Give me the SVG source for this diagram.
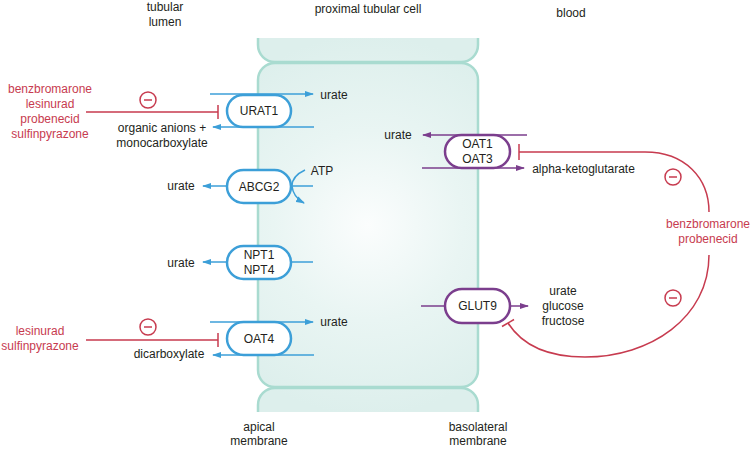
<svg xmlns="http://www.w3.org/2000/svg" width="753" height="449" viewBox="0 0 753 449">
<defs>
<style>
text{font-family:"Liberation Sans",Arial,sans-serif;font-size:12px;fill:#231f20;text-anchor:middle;dominant-baseline:central}
.red{fill:#c73b4f}
.pb{fill:#fff;stroke:#3c9fd8;stroke-width:2.5}
.pp{fill:#fff;stroke:#7b3e8d;stroke-width:2.5}
.lb{fill:none;stroke:#3c9fd8;stroke-width:1.5}
.lp{fill:none;stroke:#7b3e8d;stroke-width:1.5}
.lr{fill:none;stroke:#c73b4f;stroke-width:1.5}
.cell{stroke:#a9dbd0;stroke-width:2.5;fill:url(#cg)}
</style>
<radialGradient id="cg" cx="368" cy="225" r="190" gradientUnits="userSpaceOnUse">
<stop offset="0" stop-color="#fbfdfd"/>
<stop offset="0.5" stop-color="#e9f5f3"/>
<stop offset="1" stop-color="#ddefec"/>
</radialGradient>
<clipPath id="cc"><rect x="240" y="38" width="260" height="374"/></clipPath>
<marker id="ab" markerWidth="9" markerHeight="7" refX="8" refY="3.5" orient="auto" markerUnits="userSpaceOnUse"><path d="M0,0.5 L9,3.5 L0,6.5z" fill="#3c9fd8"/></marker>
<marker id="ap" markerWidth="9" markerHeight="7" refX="8" refY="3.5" orient="auto" markerUnits="userSpaceOnUse"><path d="M0,0.5 L9,3.5 L0,6.5z" fill="#7b3e8d"/></marker>
</defs>
<rect width="753" height="449" fill="#fff"/>

<g id="cells" clip-path="url(#cc)">
<rect class="cell" x="258" y="10" width="220" height="52" rx="17"/>
<rect class="cell" x="258" y="388" width="220" height="60" rx="17"/>
<rect id="proximal-cell" class="cell" x="258" y="63" width="220" height="324" rx="17"/>
</g>

<g id="labels">
<text x="165" y="7">tubular</text>
<text x="165" y="22">lumen</text>
<text x="368" y="9">proximal tubular cell</text>
<text x="571" y="13">blood</text>
<text x="259" y="427">apical</text>
<text x="259" y="441">membrane</text>
<text x="478" y="427">basolateral</text>
<text x="478" y="441">membrane</text>
</g>

<g id="connectors">
<!-- URAT1 -->
<line class="lb" x1="210" y1="94" x2="313" y2="94" marker-end="url(#ab)"/>
<line class="lb" x1="314" y1="127" x2="213" y2="127" marker-end="url(#ab)"/>
<!-- ABCG2 -->
<line class="lb" x1="227" y1="186" x2="203" y2="186" marker-end="url(#ab)"/>
<line class="lb" x1="291" y1="186" x2="313" y2="186"/>
<path class="lb" d="M305,170 Q292,176 292,186 Q293,197 304,203" marker-end="url(#ab)"/>
<!-- NPT -->
<line class="lb" x1="227" y1="262" x2="203" y2="262" marker-end="url(#ab)"/>
<line class="lb" x1="291" y1="262" x2="313" y2="262"/>
<!-- OAT4 -->
<line class="lb" x1="210" y1="322" x2="313" y2="322" marker-end="url(#ab)"/>
<line class="lb" x1="314" y1="355" x2="213" y2="355" marker-end="url(#ab)"/>
<!-- OAT1/3 -->
<line class="lp" x1="527" y1="135" x2="423" y2="135" marker-end="url(#ap)"/>
<line class="lp" x1="422" y1="168" x2="524" y2="168" marker-end="url(#ap)"/>
<!-- GLUT9 -->
<line class="lp" x1="421" y1="306" x2="445" y2="306"/>
<line class="lp" x1="510" y1="306" x2="528" y2="306" marker-end="url(#ap)"/>
<!-- inhibitors -->
<path class="lr" d="M86,112 H218 M218,105 V119"/>
<path class="lr" d="M86,340 H218 M218,333 V347"/>
<path class="lr" d="M519,152 H645 C685,152 709,178 709,212"/>
<path class="lr" d="M519,144 V160"/>
<path class="lr" d="M709,255 C709,318 650,357 585,357 C548,357 522,345 508,323"/>
<path class="lr" d="M502,326.5 L514,319.5"/>
</g>

<g id="inhibit-marks">
<g class="lr"><circle cx="148" cy="100" r="8"/><line x1="144" y1="100" x2="152" y2="100"/></g>
<g class="lr"><circle cx="148" cy="327" r="8"/><line x1="144" y1="327" x2="152" y2="327"/></g>
<g class="lr"><circle cx="673" cy="177" r="8"/><line x1="669" y1="177" x2="677" y2="177"/></g>
<g class="lr"><circle cx="673" cy="298" r="8"/><line x1="669" y1="298" x2="677" y2="298"/></g>
</g>

<g id="drugs-urat1">
<text class="red" x="50" y="89">benzbromarone</text>
<text class="red" x="50" y="104">lesinurad</text>
<text class="red" x="50" y="119">probenecid</text>
<text class="red" x="50" y="134">sulfinpyrazone</text>
</g>
<g id="drugs-oat4">
<text class="red" x="40" y="331">lesinurad</text>
<text class="red" x="40" y="346">sulfinpyrazone</text>
</g>
<g id="drugs-basolateral">
<text class="red" x="708" y="224">benzbromarone</text>
<text class="red" x="708" y="239">probenecid</text>
</g>

<g id="URAT1">
<rect class="pb" x="227" y="95" width="64" height="32" rx="16"/>
<text x="259" y="111">URAT1</text>
</g>
<g id="ABCG2">
<rect class="pb" x="227" y="170" width="64" height="33" rx="16.5"/>
<text x="259" y="186.5">ABCG2</text>
</g>
<g id="NPT1-NPT4">
<rect class="pb" x="227" y="246" width="64" height="33" rx="16.5"/>
<text x="259" y="255">NPT1</text>
<text x="259" y="270">NPT4</text>
</g>
<g id="OAT4">
<rect class="pb" x="227" y="322" width="64" height="33" rx="16.5"/>
<text x="259" y="338.5">OAT4</text>
</g>
<g id="OAT1-OAT3">
<rect class="pp" x="445" y="135" width="65" height="33" rx="16.5"/>
<text x="477.5" y="144">OAT1</text>
<text x="477.5" y="159">OAT3</text>
</g>
<g id="GLUT9">
<rect class="pp" x="445" y="289" width="65" height="34" rx="17"/>
<text x="477.5" y="306">GLUT9</text>
</g>

<g id="substrates">
<text x="334" y="95">urate</text>
<text x="162" y="128">organic anions +</text>
<text x="162" y="143">monocarboxylate</text>
<text x="181" y="186">urate</text>
<text x="322" y="171">ATP</text>
<text x="181" y="263">urate</text>
<text x="334" y="322">urate</text>
<text x="169" y="354">dicarboxylate</text>
<text x="398" y="135">urate</text>
<text x="583.5" y="169">alpha-ketoglutarate</text>
<text x="563" y="291">urate</text>
<text x="563" y="306">glucose</text>
<text x="563" y="321">fructose</text>
</g>
</svg>
